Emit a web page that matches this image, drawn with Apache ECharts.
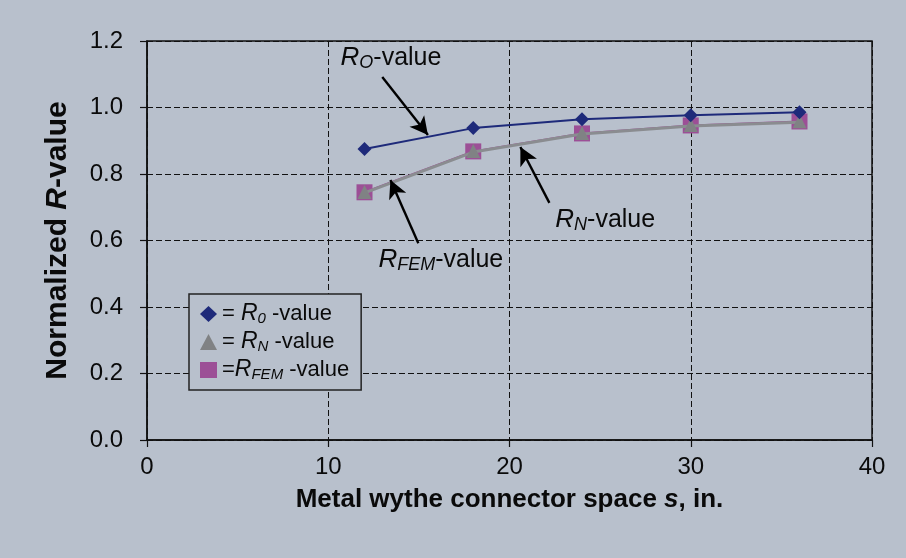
<!DOCTYPE html>
<html>
<head>
<meta charset="utf-8">
<title>Normalized R-value vs connector spacing</title>
<script src="https://cdn.jsdelivr.net/npm/echarts@6/dist/echarts.min.js"></script>
<style>
  html, body { margin: 0; padding: 0; background: #b8c0cc; }
  #chart { width: 906px; height: 558px; }
</style>
</head>
<body>
<div id="chart"></div>
<script>
// Connector spacing s (in.)
const spacing = [12, 18, 24, 30, 36];
// Normalized R-values
const rO = [0.875, 0.938, 0.965, 0.977, 0.986];
const rN = [0.743, 0.866, 0.920, 0.944, 0.956];
const rFEM = [0.745, 0.868, 0.922, 0.946, 0.958];
// Axis ticks
const xTicks = [0, 10, 20, 30, 40];
const yTicks = [0.0, 0.2, 0.4, 0.6, 0.8, 1.0, 1.2];

// Callout labels: [x, y, rich text] in data units
const callouts = [
  [10.65, 1.149, '{r|R}{sub|O}{t|-value}'],
  [22.5, 0.662, '{r|R}{sub|N}{t|-value}'],
  [12.74, 0.541, '{r|R}{sub|FEM}{t|-value}']
];
// Callout arrows: [tailX, tailY, headX, headY] in data units
const arrows = [
  [12.98, 1.092, 15.5, 0.917],
  [22.2, 0.713, 20.6, 0.881],
  [14.97, 0.592, 13.43, 0.782]
];

const pairs = (xs, ys) => xs.map((x, i) => [x, ys[i]]);
const FONT = 'Liberation Sans';
const INK = '#0a0a0a';

const richText = {
  r: { fontSize: 26, fontStyle: 'italic', color: INK, fontFamily: FONT, lineHeight: 28 },
  sub: { fontSize: 18, fontStyle: 'italic', color: INK, fontFamily: FONT, lineHeight: 28, padding: [10, 0, 0, 0] },
  t: { fontSize: 25, color: INK, fontFamily: FONT, lineHeight: 28 }
};

const legendRich = {
  e: { fontSize: 22, color: INK, fontFamily: FONT, lineHeight: 24 },
  r: { fontSize: 23, fontStyle: 'italic', color: INK, fontFamily: FONT, lineHeight: 24 },
  sub: { fontSize: 15, fontStyle: 'italic', color: INK, fontFamily: FONT, lineHeight: 24, padding: [9, 0, 0, 0] },
  t: { fontSize: 22, color: INK, fontFamily: FONT, lineHeight: 24 }
};
const legendText = {
  'R0': '{e|= }{r|R}{sub|0}{t| -value}',
  'RN': '{e|= }{r|R}{sub|N}{t| -value}',
  'RFEM': '{e|=}{r|R}{sub|FEM}{t| -value}'
};

const titleRich = size => ({
  b: { fontSize: size, fontWeight: 'bold', color: INK, fontFamily: FONT },
  bi: { fontSize: size, fontWeight: 'bold', fontStyle: 'italic', color: INK, fontFamily: FONT }
});

const chart = echarts.init(document.getElementById('chart'));
chart.setOption({
  backgroundColor: '#b8c0cc',
  animation: false,
  grid: {
    left: 147, right: 34, top: 41, bottom: 118,
    show: true, borderColor: '#111', borderWidth: 1.5, backgroundColor: 'transparent'
  },
  legend: {
    orient: 'vertical',
    left: 189, top: 294,
    padding: [8, 12, 8, 11],
    itemGap: 4,
    itemWidth: 17, itemHeight: 16,
    borderColor: '#222', borderWidth: 1.5,
    backgroundColor: '#b8c0cc',
    data: [
      { name: 'R0', icon: 'diamond', itemStyle: { color: '#1e2a7a' } },
      { name: 'RN', icon: 'triangle', itemStyle: { color: '#808284' } },
      { name: 'RFEM', icon: 'rect', itemStyle: { color: '#9c4f96' } }
    ],
    formatter: name => legendText[name],
    textStyle: { color: INK, rich: legendRich }
  },
  xAxis: {
    type: 'value',
    min: xTicks[0], max: xTicks[xTicks.length - 1], interval: 10,
    name: '{b|Metal wythe connector space }{bi|s}{b|, in.}',
    nameLocation: 'middle', nameGap: 47,
    nameTextStyle: { rich: titleRich(26) },
    axisLine: { show: true, lineStyle: { color: '#111', width: 1.5 } },
    axisTick: { show: true, inside: false, length: 7, lineStyle: { color: '#111', width: 1.2 } },
    axisLabel: { fontSize: 24, color: INK, margin: 15, fontFamily: FONT },
    splitLine: { show: true, lineStyle: { color: '#111', type: [6, 3], width: 1 } }
  },
  yAxis: {
    type: 'value',
    min: yTicks[0], max: yTicks[yTicks.length - 1], interval: 0.2,
    name: '{b|Normalized }{bi|R}{b|-value}',
    nameLocation: 'middle', nameGap: 74,
    nameTextStyle: { rich: titleRich(30) },
    axisLine: { show: true, lineStyle: { color: '#111', width: 1.5 } },
    axisTick: { show: true, inside: false, length: 7, lineStyle: { color: '#111', width: 1.2 } },
    axisLabel: {
      fontSize: 24, color: INK, margin: 24, fontFamily: FONT,
      formatter: v => v.toFixed(1)
    },
    splitLine: { show: true, lineStyle: { color: '#111', type: [6, 3], width: 1 } }
  },
  series: [
    {
      name: 'RFEM', type: 'line', data: pairs(spacing, rFEM),
      symbol: 'rect', symbolSize: 16,
      itemStyle: { color: '#9c4f96' },
      lineStyle: { color: '#9c4f96', width: 2 },
      z: 2
    },
    {
      name: 'RN', type: 'line', data: pairs(spacing, rN),
      symbol: 'triangle', symbolSize: 14, symbolOffset: [0, -1],
      itemStyle: { color: '#808284' },
      lineStyle: { color: '#8a8c90', width: 3 },
      z: 3
    },
    {
      name: 'R0', type: 'line', data: pairs(spacing, rO),
      symbol: 'diamond', symbolSize: 14,
      itemStyle: { color: '#1e2a7a' },
      lineStyle: { color: '#1e2a7a', width: 2 },
      z: 4
    },
    {
      name: 'callouts', type: 'scatter',
      data: callouts.map(c => ({ value: [c[0], c[1]], text: c[2] })),
      symbolSize: 1, itemStyle: { color: 'rgba(0,0,0,0)', opacity: 1 },
      silent: true, z: 6,
      label: {
        show: true, position: 'right', distance: 0,
        color: INK, opacity: 1, textBorderWidth: 0,
        formatter: p => p.data.text,
        rich: richText
      },
      markLine: {
        silent: true,
        symbol: ['none', 'arrow'],
        symbolSize: [14, 18],
        lineStyle: { color: '#000', width: 2.4, type: 'solid' },
        label: { show: false },
        data: arrows.map(a => [{ coord: [a[0], a[1]] }, { coord: [a[2], a[3]] }])
      }
    }
  ]
});
</script>
</body>
</html>
